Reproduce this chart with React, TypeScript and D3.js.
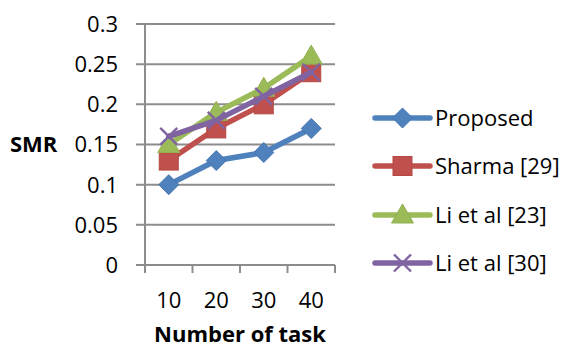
import React from "react";
import * as d3 from "d3";

// Series data: SMR by number of tasks
const categories = ["10", "20", "30", "40"];
const proposed = [0.1, 0.13, 0.14, 0.17];
const sharma = [0.13, 0.17, 0.2, 0.24];
const li23 = [0.15, 0.19, 0.22, 0.26];
const li30 = [0.16, 0.18, 0.21, 0.24];
const yTicks = [0, 0.05, 0.1, 0.15, 0.2, 0.25, 0.3];
const yTickLabels = ["0", "0.05", "0.1", "0.15", "0.2", "0.25", "0.3"];
const seriesNames = ["Proposed", "Sharma [29]", "Li et al [23]", "Li et al [30]"];

type Shape = "diamond" | "square" | "triangle" | "cross";
const styles: { color: string; edge: string; shape: Shape }[] = [
  { color: "#4F81BD", edge: "#4676B0", shape: "diamond" },
  { color: "#C0504D", edge: "#B54844", shape: "square" },
  { color: "#9BBB59", edge: "#92B050", shape: "triangle" },
  { color: "#8064A2", edge: "#8064A2", shape: "cross" },
];

const FONT = "'Open Sans', 'Noto Sans', sans-serif";

function Marker({ x, y, shape, color, edge }: { x: number; y: number; shape: Shape; color: string; edge: string }) {
  if (shape === "diamond") {
    const r = 10;
    return <path d={`M${x},${y - r}L${x + r},${y}L${x},${y + r}L${x - r},${y}Z`} fill={color} stroke={edge} strokeWidth={1} />;
  }
  if (shape === "square") {
    const h = 9.5;
    return <rect x={x - h} y={y - h} width={2 * h} height={2 * h} fill={color} stroke={edge} strokeWidth={1} />;
  }
  if (shape === "triangle") {
    return <path d={`M${x},${y - 11}L${x + 11},${y + 8}L${x - 11},${y + 8}Z`} fill={color} stroke={edge} strokeWidth={1} />;
  }
  const c = 8.5;
  return (
    <path d={`M${x - c},${y - c}L${x + c},${y + c}M${x - c},${y + c}L${x + c},${y - c}`} stroke={color} strokeWidth={2.4} fill="none" />
  );
}

export default function App() {
  const width = 570;
  const height = 349;
  const x0 = 145;
  const x1 = 335;
  const yBottom = 265;
  const yTop = 24;

  const x = d3.scaleBand<string>().domain(categories).range([x0, x1]);
  const y = d3.scaleLinear().domain([0, 0.3]).range([yBottom, yTop]);
  const cx = (c: string) => (x(c) as number) + x.bandwidth() / 2;

  const allSeries = [proposed, sharma, li23, li30];
  const line = d3
    .line<number>()
    .x((_, i) => cx(categories[i]))
    .y((d) => y(d));

  const gridColor = "#8C8C8C";
  const legendX0 = 375;
  const legendX1 = 430;
  const legendY = [118, 166, 215, 263];

  return (
    <svg width={width} height={height} style={{ position: "absolute", left: 0, top: 0, background: "#fff" }}>
      {/* gridlines with left tick marks */}
      {yTicks.map((t) => (
        <line key={t} x1={x0 - 9} x2={x1} y1={y(t)} y2={y(t)} stroke={gridColor} strokeWidth={2} />
      ))}
      {/* y axis */}
      <line x1={x0} x2={x0} y1={yTop} y2={yBottom} stroke={gridColor} strokeWidth={2} />
      {/* x axis tick marks at band edges */}
      {[...categories.map((c) => x(c) as number), x1].map((p, i) => (
        <line key={i} x1={p} x2={p} y1={yBottom} y2={yBottom + 8} stroke={gridColor} strokeWidth={2} />
      ))}
      {/* y tick labels */}
      {yTicks.map((t, i) => (
        <text key={t} x={118} y={y(t)} dy="0.36em" textAnchor="end" fontFamily={FONT} fontSize={22} fill="#000">
          {yTickLabels[i]}
        </text>
      ))}
      {/* x tick labels */}
      {categories.map((c) => (
        <text key={c} x={cx(c)} y={308} textAnchor="middle" fontFamily={FONT} fontSize={22} fill="#000">
          {c}
        </text>
      ))}
      {/* axis titles */}
      <text x={10} y={152} fontFamily={FONT} fontWeight="bold" fontSize={22} fill="#000">
        SMR
      </text>
      <text x={240} y={342} textAnchor="middle" fontFamily={FONT} fontWeight="bold" fontSize={22} fill="#000">
        Number of task
      </text>
      {/* series */}
      {allSeries.map((s, si) => (
        <g key={si}>
          <path d={line(s) || ""} fill="none" stroke={styles[si].color} strokeWidth={5.5} strokeLinejoin="round" strokeLinecap="round" />
          {s.map((v, i) => (
            <Marker key={i} x={cx(categories[i])} y={y(v)} shape={styles[si].shape} color={styles[si].color} edge={styles[si].edge} />
          ))}
        </g>
      ))}
      {/* legend */}
      {seriesNames.map((n, i) => (
        <g key={n}>
          <line x1={legendX0} x2={legendX1} y1={legendY[i]} y2={legendY[i]} stroke={styles[i].color} strokeWidth={5.5} strokeLinecap="round" />
          <Marker x={(legendX0 + legendX1) / 2} y={legendY[i]} shape={styles[i].shape} color={styles[i].color} edge={styles[i].edge} />
          <text x={435} y={legendY[i]} dy="0.36em" fontFamily={FONT} fontSize={22} fill="#000">
            {n}
          </text>
        </g>
      ))}
    </svg>
  );
}
